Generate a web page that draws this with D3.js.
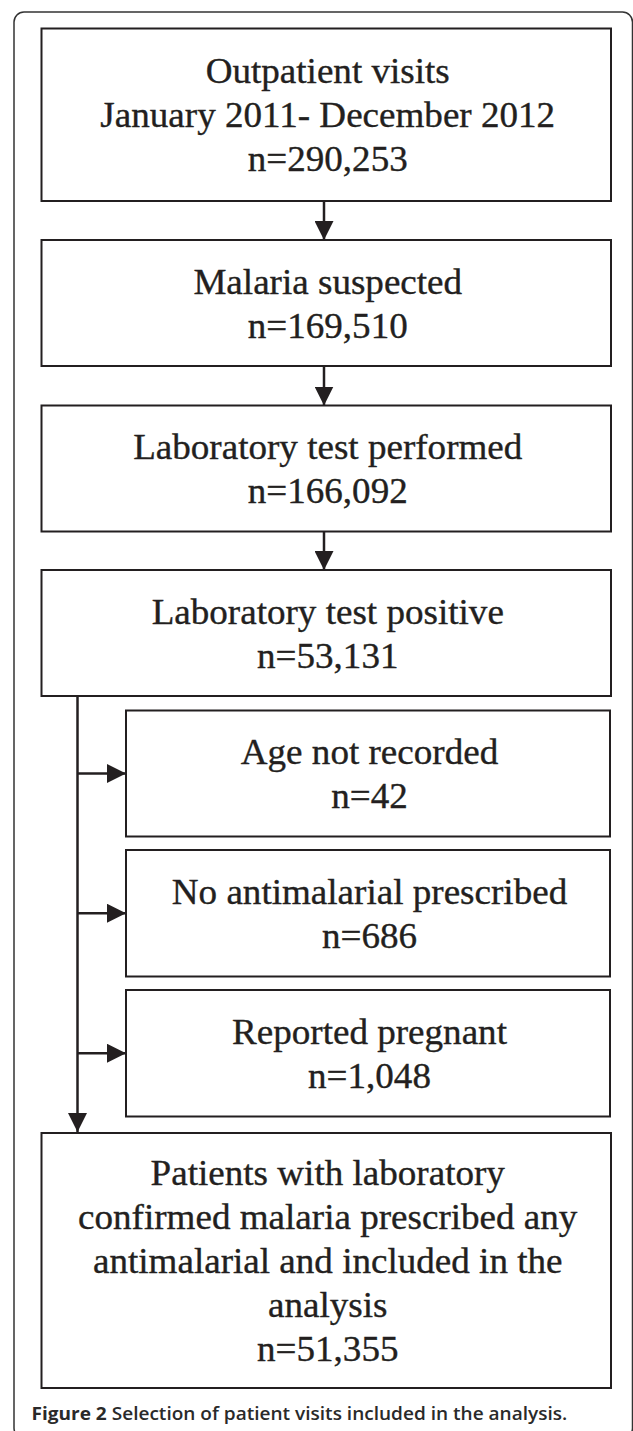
<!DOCTYPE html>
<html>
<head>
<meta charset="utf-8">
<script src="https://cdn.jsdelivr.net/npm/d3@7"></script>
<style>
  html, body { margin: 0; padding: 0; background: #fff; }
  svg { display: block; }
</style>
</head>
<body>
<div id="chart"></div>
<script>
// ---------- DATA ----------
const mainLabels = [
  ["Outpatient visits", "January 2011- December 2012"],
  ["Malaria suspected"],
  ["Laboratory test performed"],
  ["Laboratory test positive"],
  ["Patients with laboratory", "confirmed malaria prescribed any", "antimalarial and included in the", "analysis"]
];
const mainCounts = [290253, 169510, 166092, 53131, 51355];
const exclLabels = ["Age not recorded", "No antimalarial prescribed", "Reported pregnant"];
const exclCounts = [42, 686, 1048];
const captionBold = "Figure 2";
const captionText = " Selection of patient visits included in the analysis.";

// ---------- LAYOUT ----------
const W = 633, H = 1431;
const ink = "#231f20";
const fmt = d3.format(",");
const lineH = 44;
const fontSize = 35;
const stretch = 1.06;

const mainX0 = 41.5, mainX1 = 611;
const exclX0 = 126, exclX1 = 610;
const mainY = [[28.5, 201], [240, 366], [405.5, 531.5], [570, 696], [1133, 1388]];
const exclY = [[710.5, 836.5], [850, 976.5], [990, 1116.5]];
const arrowX = 324, branchX = 77.5;

const svg = d3.select("#chart").append("svg")
  .attr("width", W).attr("height", H);

const defs = svg.append("defs");
defs.append("marker").attr("id", "ah")
  .attr("viewBox", "0 0 10 10").attr("refX", 10).attr("refY", 5)
  .attr("markerUnits", "userSpaceOnUse")
  .attr("markerWidth", 19).attr("markerHeight", 19)
  .attr("orient", "auto")
  .append("path").attr("d", "M0,0 L10,5 L0,10 Z").attr("fill", ink);

// outer rounded frame
svg.append("rect")
  .attr("x", 14).attr("y", 12).attr("width", 618.5).attr("height", 1426)
  .attr("rx", 10).attr("ry", 10)
  .attr("fill", "none").attr("stroke", "#333").attr("stroke-width", 1.5);

function box(x0, x1, y0, y1, lines) {
  const g = svg.append("g");
  g.append("rect")
    .attr("x", x0).attr("y", y0).attr("width", x1 - x0).attr("height", y1 - y0)
    .attr("fill", "#fff").attr("stroke", ink).attr("stroke-width", 2);
  const cx = (x0 + x1) / 2 + 1.5;
  const cy = (y0 + y1) / 2;
  const first = cy - (lines.length - 1) * lineH / 2 + 12.5;
  g.selectAll("text").data(lines).join("text")
    .attr("transform", (d, i) => `translate(${cx},${first + i * lineH}) scale(${stretch},1)`)
    .attr("x", 0).attr("y", 0)
    .attr("text-anchor", "middle")
    .attr("font-family", "'Liberation Serif', 'Times New Roman', serif")
    .attr("font-size", fontSize)
    .attr("fill", ink)
    .attr("stroke", ink).attr("stroke-width", 0.35)
    .text(d => d);
}

mainLabels.forEach((lab, i) => {
  box(mainX0, mainX1, mainY[i][0], mainY[i][1], lab.concat(["n=" + fmt(mainCounts[i])]));
});
exclLabels.forEach((lab, i) => {
  box(exclX0, exclX1, exclY[i][0], exclY[i][1], [lab, "n=" + fmt(exclCounts[i])]);
});

// vertical arrows between main boxes 0-3
for (let i = 0; i < 3; i++) {
  svg.append("line")
    .attr("x1", arrowX).attr("x2", arrowX)
    .attr("y1", mainY[i][1]).attr("y2", mainY[i + 1][0])
    .attr("stroke", ink).attr("stroke-width", 2.5)
    .attr("marker-end", "url(#ah)");
}
// branch line from box 4 to final box
svg.append("line")
  .attr("x1", branchX).attr("x2", branchX)
  .attr("y1", mainY[3][1]).attr("y2", mainY[4][0] - 1)
  .attr("stroke", ink).attr("stroke-width", 2.5)
  .attr("marker-end", "url(#ah)");
// horizontal arrows to exclusion boxes
exclY.forEach(([y0, y1]) => {
  const y = (y0 + y1) / 2;
  svg.append("line")
    .attr("x1", branchX).attr("x2", exclX0)
    .attr("y1", y).attr("y2", y)
    .attr("stroke", ink).attr("stroke-width", 2.5)
    .attr("marker-end", "url(#ah)");
});

// caption
const capG = svg.append("g").attr("transform", "translate(31.5,1420)");
const cap = capG.append("text")
  .attr("x", 0).attr("y", 0)
  .attr("font-family", "'Open Sans', 'Noto Sans', sans-serif")
  .attr("font-size", 18.5)
  .attr("fill", "#2a2a2a");
cap.append("tspan").attr("font-weight", 700).text(captionBold);
cap.append("tspan").attr("font-weight", 600).text(captionText);
// squeeze caption horizontally to the reference width
const targetW = 536;
const w = cap.node().getComputedTextLength();
if (w > 0) capG.attr("transform", `translate(31.5,1420) scale(${targetW / w},1)`);
</script>
</body>
</html>
